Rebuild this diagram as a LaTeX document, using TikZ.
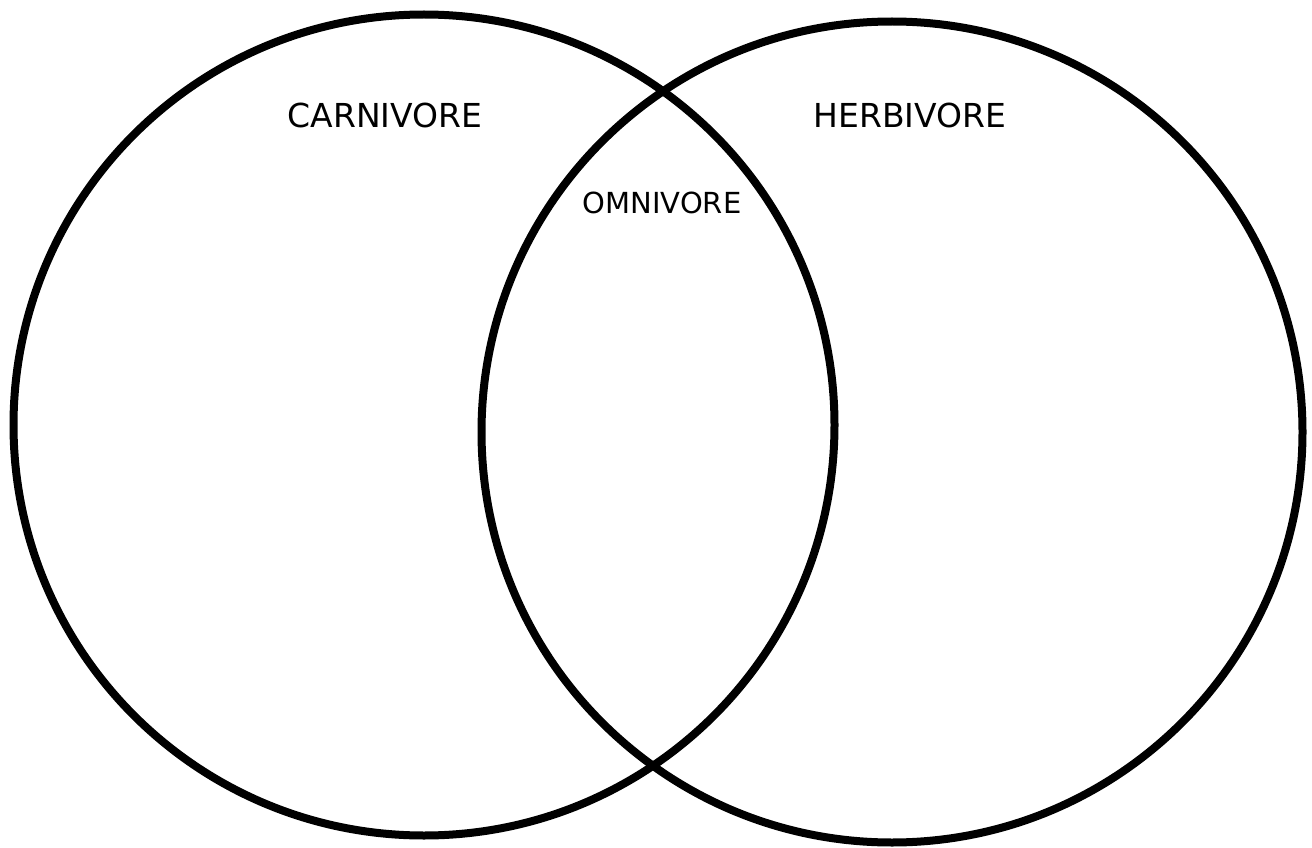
\documentclass[tikz,border=0pt]{standalone}
\usepackage{fontspec}
\setmainfont{DejaVu Sans}
\usetikzlibrary{positioning}

\begin{document}
\begin{tikzpicture}[
      x=1pt, y=-1pt,
      setcirc/.style={draw, circle, line width=8pt, minimum size=821pt, inner sep=0pt},
      setlbl/.style={font=\fontsize{33}{36}\selectfont, inner sep=0pt},
      midlbl/.style={font=\fontsize{29}{32}\selectfont, inner sep=0pt}
    ]
    \useasboundingbox (0,0) rectangle (1312,848);
    % Mengen
    \node[setcirc] (carn) at (424,425) {};
    \node[setcirc] (herb) at (892,432) {};

    % Beschriftungen
    \node[setlbl] (carnlbl) at (385,115) {CARNIVORE};
    \node[setlbl] (herblbl) at (910,115) {HERBIVORE};
    \node[midlbl] (omnilbl) at (662,203) {OMNIVORE};
  \end{tikzpicture}
\end{document}
